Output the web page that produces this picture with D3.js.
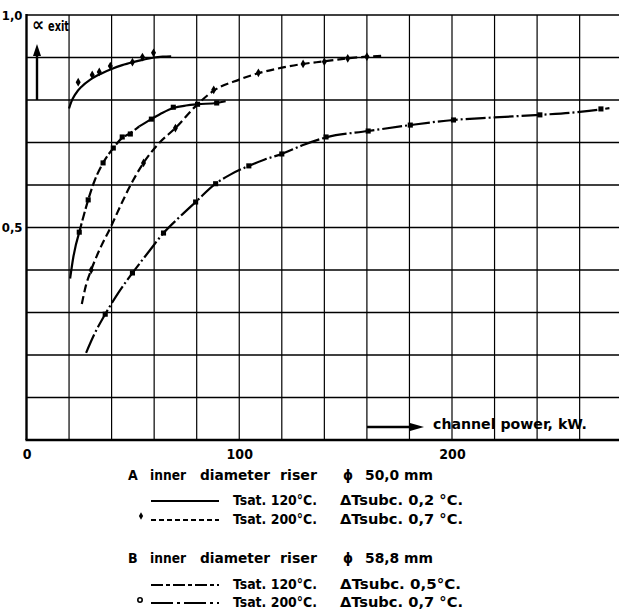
<!DOCTYPE html>
<html><head><meta charset="utf-8">
<script src="https://cdn.jsdelivr.net/npm/d3@7"></script>
<style>
html,body{margin:0;padding:0;background:#fff;}
text{font-family:"DejaVu Sans Condensed","DejaVu Sans","Liberation Sans",sans-serif;font-weight:bold;fill:#000;}
</style></head>
<body><svg id="c" width="619" height="615"></svg>
<script>
// ---- data ----
const xTickValues = [0, 100, 200];
const xTickLabels = ["0", "100", "200"];
const yTickValues = [1.0, 0.5];
const yTickLabels = ["1,0", "0,5"];

// upper-left solid curve with "+" markers
const c1LineX = [20, 21, 23, 26, 30, 35, 40, 45, 50, 55, 60, 64, 68];
const c1LineY = [0.78, 0.795, 0.814, 0.832, 0.848, 0.862, 0.873, 0.882, 0.889, 0.895, 0.9, 0.902, 0.903];
const c1MarkX = [24.3, 30.9, 34.2, 39.4, 49.8, 54.5, 59.7];
const c1MarkY = [0.842, 0.859, 0.866, 0.880, 0.889, 0.901, 0.911];

// dashed curve with "+" markers
const c2LineX = [26, 28, 30.4, 35, 39.5, 45, 50, 55, 62, 70, 80, 88, 100, 109, 120, 130, 140, 151, 160, 167];
const c2LineY = [0.32, 0.365, 0.40, 0.455, 0.50, 0.56, 0.61, 0.652, 0.697, 0.734, 0.788, 0.822, 0.848, 0.863, 0.876, 0.885, 0.891, 0.898, 0.902, 0.904];
const c2MarkX = [30.4, 55, 70, 88, 109, 130, 140, 151, 160];
const c2MarkY = [0.40, 0.652, 0.734, 0.824, 0.864, 0.885, 0.89, 0.898, 0.902];

// steep curve with square markers (dashed lower part, solid upper part)
const c3LineX = [20.5, 22, 24.8, 27, 29, 32, 36, 40.8, 45, 48.8, 53, 58.7, 64, 69, 75, 80.4, 89.4, 93.6];
const c3LineY = [0.38, 0.43, 0.489, 0.53, 0.565, 0.61, 0.652, 0.687, 0.711, 0.722, 0.738, 0.755, 0.770, 0.781, 0.787, 0.790, 0.793, 0.797];
const c3MarkX = [24.8, 29, 36, 40.8, 45, 48.8, 58.7, 69, 80.4, 89.4];
const c3MarkY = [0.489, 0.565, 0.652, 0.687, 0.713, 0.72, 0.755, 0.783, 0.79, 0.793];

// long dash-dot curve with square markers
const c4LineX = [28, 32, 37, 43, 49.8, 57, 64.4, 72, 79.5, 88.9, 96, 104.5, 112, 120, 130, 140.8, 160.6, 180.4, 200.7, 220, 241.3, 260, 270, 274];
const c4LineY = [0.205, 0.25, 0.296, 0.345, 0.393, 0.44, 0.487, 0.525, 0.56, 0.603, 0.625, 0.645, 0.66, 0.673, 0.694, 0.712, 0.727, 0.741, 0.753, 0.759, 0.765, 0.772, 0.778, 0.781];
const c4MarkX = [37, 49.8, 64.4, 79.5, 88.9, 104.5, 120, 140.8, 160.6, 180.4, 200.7, 241.3, 270];
const c4MarkY = [0.296, 0.393, 0.487, 0.56, 0.603, 0.645, 0.673, 0.713, 0.727, 0.741, 0.753, 0.765, 0.779];

// legend text
const legendHeads = [
  {letter: "A", words: ["inner", "diameter", "riser"], dia: "50,0 mm"},
  {letter: "B", words: ["inner", "diameter", "riser"], dia: "58,8 mm"}
];
const legendRows = [
  {tsat: "Tsat. 120°C.", sub: "ΔTsubc. 0,2 °C.", dash: null, mark: null},
  {tsat: "Tsat. 200°C.", sub: "ΔTsubc. 0,7 °C.", dash: "5,3", mark: "plus"},
  {tsat: "Tsat. 120°C.", sub: "ΔTsubc. 0,5°C.", dash: "12,3,4,3", mark: null},
  {tsat: "Tsat. 200°C.", sub: "ΔTsubc. 0,7 °C.", dash: "22,4,3,4", mark: "circle"}
];

// ---- drawing ----
const svg = d3.select("#c");
const x = d3.scaleLinear().domain([0, 200]).range([26.5, 452]);
const y = d3.scaleLinear().domain([0, 1]).range([440, 15]);

const grid = svg.append("g");
const xGrid = d3.range(20, 300, 20);
grid.selectAll(".vg").data(xGrid).join("line")
  .attr("x1", d => x(d)).attr("x2", d => x(d))
  .attr("y1", y(1)).attr("y2", y(0))
  .attr("stroke", "#000").attr("stroke-width", 1.2);
const yGrid = d3.range(1, 11).map(i => i / 10);
grid.selectAll(".hg").data(yGrid).join("line")
  .attr("x1", x(0)).attr("x2", 619)
  .attr("y1", d => y(d)).attr("y2", d => y(d))
  .attr("stroke", "#000").attr("stroke-width", 1.3);

// axes
const xAxis = d3.axisBottom(x).tickValues(xTickValues).tickFormat((d, i) => xTickLabels[i]).tickSize(0).tickPadding(9);
const gx = svg.append("g").attr("transform", `translate(0,${y(0)})`).call(xAxis);
gx.select(".domain").remove();
gx.selectAll("text").style("font-size", "14px").style("font-family", "DejaVu Sans Condensed, DejaVu Sans, sans-serif").style("font-weight", "bold");
svg.append("line").attr("x1", x(0) - 1).attr("x2", 619).attr("y1", y(0)).attr("y2", y(0)).attr("stroke", "#000").attr("stroke-width", 2.4);

const yAxis = d3.axisLeft(y).tickValues(yTickValues).tickFormat((d, i) => yTickLabels[i]).tickSize(0).tickPadding(4);
const gy = svg.append("g").attr("transform", `translate(${x(0)},0)`).call(yAxis);
gy.select(".domain").remove();
gy.selectAll("text").style("font-size", "13px").style("font-family", "DejaVu Sans Condensed, DejaVu Sans, sans-serif").style("font-weight", "bold").attr("dy", "0.0em")
  .attr("y", 4);
svg.append("line").attr("x1", x(0)).attr("x2", x(0)).attr("y1", y(1) - 1).attr("y2", y(0)).attr("stroke", "#000").attr("stroke-width", 2.4);

// curves
const line = d3.line().x(d => x(d[0])).y(d => y(d[1])).curve(d3.curveMonotoneX);
const zip = (a, b) => a.map((v, i) => [v, b[i]]);
const g = svg.append("g");
g.append("path").datum(zip(c1LineX, c1LineY)).attr("d", line).attr("fill", "none").attr("stroke", "#000").attr("stroke-width", 2.2);
g.append("path").datum(zip(c2LineX, c2LineY)).attr("d", line).attr("fill", "none").attr("stroke", "#000").attr("stroke-width", 2.2).attr("stroke-dasharray", "8,4");
const c3 = zip(c3LineX, c3LineY);
g.append("path").datum(c3.filter(d => d[0] <= 24.8)).attr("d", line).attr("fill", "none").attr("stroke", "#000").attr("stroke-width", 2.2);
g.append("path").datum(c3.filter(d => d[0] >= 24.8 && d[0] <= 53)).attr("d", line).attr("fill", "none").attr("stroke", "#000").attr("stroke-width", 2.2).attr("stroke-dasharray", "9,3");
g.append("path").datum(c3.filter(d => d[0] >= 53)).attr("d", line).attr("fill", "none").attr("stroke", "#000").attr("stroke-width", 2.2);
g.append("path").datum(zip(c4LineX, c4LineY)).attr("d", line).attr("fill", "none").attr("stroke", "#000").attr("stroke-width", 2.2).attr("stroke-dasharray", "20,3,2,3");

// markers
const plus = d3.symbol().type(d3.symbolDiamond).size(22);
const sq = d3.symbol().type(d3.symbolSquare).size(26);
g.selectAll(".m1").data(zip(c1MarkX, c1MarkY)).join("path").attr("d", plus).attr("transform", d => `translate(${x(d[0])},${y(d[1])})`);
g.selectAll(".m2").data(zip(c2MarkX, c2MarkY)).join("path").attr("d", plus).attr("transform", d => `translate(${x(d[0])},${y(d[1])})`);
g.selectAll(".m3").data(zip(c3MarkX, c3MarkY)).join("path").attr("d", sq).attr("transform", d => `translate(${x(d[0])},${y(d[1])})`);
g.selectAll(".m4").data(zip(c4MarkX, c4MarkY)).join("path").attr("d", sq).attr("transform", d => `translate(${x(d[0])},${y(d[1])})`);

// axis titles
svg.append("text").attr("x", 32).attr("y", 31).style("font-size", "19px").text("∝");
svg.append("text").attr("x", 48).attr("y", 31).style("font-size", "14px").attr("textLength", 21).attr("lengthAdjust", "spacingAndGlyphs").text("exit");
svg.append("line").attr("x1", 37).attr("x2", 37).attr("y1", 100).attr("y2", 52).attr("stroke", "#000").attr("stroke-width", 2.4);
svg.append("path").attr("d", "M37,44 L33,56 L41,56 Z").attr("fill", "#000");

svg.append("line").attr("x1", 367).attr("x2", 412).attr("y1", 427).attr("y2", 427).attr("stroke", "#000").attr("stroke-width", 2.4);
svg.append("path").attr("d", "M424,427 L410,423 L410,431 Z").attr("fill", "#000");
svg.append("text").attr("x", 433).attr("y", 429).style("font-size", "14px").attr("textLength", 154).attr("lengthAdjust", "spacingAndGlyphs").text("channel power, kW.");

// legend
const headY = [480, 563];
const rowY = [505, 524, 589, 607];
const fit = (sel, w) => sel.attr("textLength", w).attr("lengthAdjust", "spacingAndGlyphs");
legendHeads.forEach((h, i) => {
  const yy = headY[i];
  svg.append("text").attr("x", 128).attr("y", yy).style("font-size", "14px").text(h.letter);
  const wx = [150, 200, 280];
  const ww = [36, 70, 37];
  h.words.forEach((w, j) => fit(svg.append("text").attr("x", wx[j]).attr("y", yy).style("font-size", "14px"), ww[j]).text(w));
  svg.append("text").attr("x", 343).attr("y", yy).style("font-size", "14px").text("ϕ");
  fit(svg.append("text").attr("x", 365).attr("y", yy).style("font-size", "14px"), 68).text(h.dia);
});
legendRows.forEach((r, i) => {
  const yy = rowY[i];
  const ly = yy - 4;
  const ln = svg.append("line").attr("x1", 151).attr("x2", 219).attr("y1", ly).attr("y2", ly).attr("stroke", "#000").attr("stroke-width", 2);
  if (r.dash) ln.attr("stroke-dasharray", r.dash);
  if (r.mark === "plus") svg.append("path").attr("d", d3.symbol().type(d3.symbolDiamond).size(16)).attr("transform", `translate(141,${ly - 4})`);
  if (r.mark === "circle") svg.append("circle").attr("cx", 140).attr("cy", ly - 3).attr("r", 2.2).attr("fill", "none").attr("stroke", "#000").attr("stroke-width", 1.6);
  fit(svg.append("text").attr("x", 233).attr("y", yy).style("font-size", "14px"), 84).text(r.tsat);
  fit(svg.append("text").attr("x", 340).attr("y", yy).style("font-size", "14px"), r.sub === "ΔTsubc. 0,5°C." ? 121 : 123).text(r.sub);
});
</script></body></html>
